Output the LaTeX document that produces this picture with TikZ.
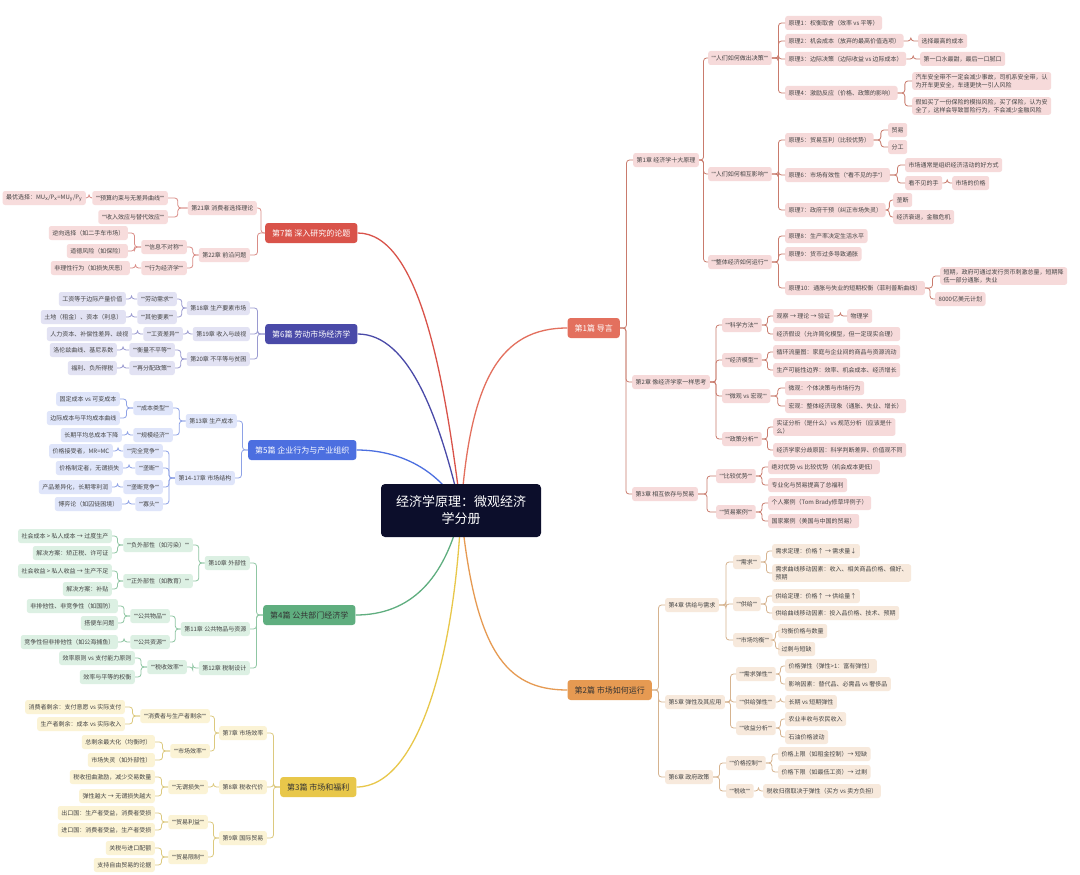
\documentclass[tikz,border=0pt]{standalone}
\usepackage{fontspec}
\setmainfont{Noto Sans CJK SC}
\newfontfamily\qf{Liberation Sans}
\newcommand\qq[1]{{\qf""}#1{\qf""}}
\usetikzlibrary{calc,backgrounds}
\definecolor{rootc}{HTML}{0C0E2B}
\definecolor{leaftxt}{HTML}{454545}
\definecolor{mA}{HTML}{E3705E}\definecolor{fA}{HTML}{F6DADA}\definecolor{lnA}{HTML}{C97B6D}
\definecolor{mB}{HTML}{E69A52}\definecolor{fB}{HTML}{F7E9DC}\definecolor{lnB}{HTML}{D6B38F}
\definecolor{mC}{HTML}{E8C74A}\definecolor{fC}{HTML}{FBF3D5}\definecolor{lnC}{HTML}{DCC97E}
\definecolor{mD}{HTML}{5FAE7F}\definecolor{fD}{HTML}{DCF0E3}\definecolor{lnD}{HTML}{8FC6A3}
\definecolor{mE}{HTML}{4C6FE0}\definecolor{fE}{HTML}{DFE5FA}\definecolor{lnE}{HTML}{8EA2E6}
\definecolor{mF}{HTML}{4A4AA8}\definecolor{fF}{HTML}{E2E2F3}\definecolor{lnF}{HTML}{9A9AD0}
\definecolor{mG}{HTML}{D9534A}\definecolor{fG}{HTML}{F7DCDC}\definecolor{lnG}{HTML}{D98C86}
\newcommand\rc[3]{\draw[#1] (#2.east) -- ($(#2.east)!.5!(#2.east -| #3.west)$) |- (#3.west);}
\newcommand\lc[3]{\draw[#1] (#2.west) -- ($(#2.west)!.5!(#2.west -| #3.east)$) |- (#3.east);}
\tikzset{
 base/.style={rounded corners=2.5pt, inner xsep=3.5pt, inner ysep=2pt, minimum height=14pt,
   font=\fontsize{6}{8}\selectfont, text=leaftxt, align=left},
 lA/.style={base, fill=fA}, lB/.style={base, fill=fB}, lC/.style={base, fill=fC},
 lD/.style={base, fill=fD}, lE/.style={base, fill=fE}, lF/.style={base, fill=fF}, lG/.style={base, fill=fG},
 part/.style={rounded corners=3pt, inner xsep=7pt, minimum height=20pt, font=\fontsize{8}{10}\selectfont},
 R/.style={anchor=west}, L/.style={anchor=east},
 cA/.style={draw=lnA, line width=0.8pt, rounded corners=3pt},
 cB/.style={draw=lnB, line width=0.8pt, rounded corners=3pt},
 cC/.style={draw=lnC, line width=0.8pt, rounded corners=3pt},
 cD/.style={draw=lnD, line width=0.8pt, rounded corners=3pt},
 cE/.style={draw=lnE, line width=0.8pt, rounded corners=3pt},
 cF/.style={draw=lnF, line width=0.8pt, rounded corners=3pt},
 cG/.style={draw=lnG, line width=0.8pt, rounded corners=3pt},
 mainline/.style={line width=1.3pt},
 rootbox/.style={fill=rootc, text=white, rounded corners=4pt, minimum width=160pt, minimum height=53pt,
   font=\fontsize{13}{17}\selectfont, align=center}
}
\begin{document}
\begin{tikzpicture}[x=1pt,y=-1pt]
\useasboundingbox (0,0) rectangle (1080,875);
\node[rootbox] (root) at (461,510.5) {经济学原理：微观经济\\学分册};

% ===== Part 1 =====
\node[part, fill=mA, text=white, anchor=east] (p1) at (620,328) {第1篇 导言};
\node[lA,R] (c1) at (633,160) {第1章 经济学十大原理};
\node[lA,R] (c1a) at (708,58) {\qq{人们如何做出决策}};
\node[lA,R] (c1a1) at (785,23) {原理1：权衡取舍（效率 vs 平等）};
\node[lA,R] (c1a2) at (785,41) {原理2：机会成本（放弃的最高价值选项）};
\node[lA,R] (c1a2x) at (918,41) {选择最高的成本};
\node[lA,R] (c1a3) at (785,59) {原理3：边际决策（边际收益 vs 边际成本）};
\node[lA,R] (c1a3x) at (920,59) {第一口水最甜，最后一口腻口};
\node[lA,R] (c1a4) at (785,93) {原理4：激励反应（价格、政策的影响）};
\node[lA,R] (c1a4x) at (912,81) {汽车安全带不一定会减少事故，司机系安全带，认\\为开车更安全，车速更快一引人风险};
\node[lA,R] (c1a4y) at (912,106) {假如买了一份保险的模拟风险，买了保险，认为安\\全了，这样会导致冒险行为，不会减少金融风险};
\node[lA,R] (c1b) at (708,174) {\qq{人们如何相互影响}};
\node[lA,R] (c1b1) at (785,140) {原理5：贸易互利（比较优势）};
\node[lA,R] (c1b1x) at (888,130) {贸易};
\node[lA,R] (c1b1y) at (888,147) {分工};
\node[lA,R] (c1b2) at (785,175) {原理6：市场有效性（{\qf"}看不见的手{\qf"}）};
\node[lA,R] (c1b2x) at (905,165) {市场通常是组织经济活动的好方式};
\node[lA,R] (c1b2y) at (905,183) {看不见的手};
\node[lA,R] (c1b2z) at (952,183) {市场的价格};
\node[lA,R] (c1b3) at (785,210) {原理7：政府干预（纠正市场失灵）};
\node[lA,R] (c1b3x) at (893,200) {垄断};
\node[lA,R] (c1b3y) at (893,217) {经济衰退，金融危机};
\node[lA,R] (c1c) at (708,262) {\qq{整体经济如何运行}};
\node[lA,R] (c1c1) at (785,236) {原理8：生产率决定生活水平};
\node[lA,R] (c1c2) at (785,254) {原理9：货币过多导致通胀};
\node[lA,R] (c1c3) at (785,288) {原理10：通胀与失业的短期权衡（菲利普斯曲线）};
\node[lA,R] (c1c3x) at (940,276) {短期，政府可通过发行货币刺激总量，短期降\\低一部分通胀，失业};
\node[lA,R] (c1c3y) at (935,299) {8000亿美元计划};

\node[lA,R] (c2) at (632,382) {第2章 像经济学家一样思考};
\node[lA,R] (c2a) at (722,325) {\qq{科学方法}};
\node[lA,R] (c2a1) at (773,316) {观察 → 理论 → 验证};
\node[lA,R] (c2a1x) at (847,316) {物理学};
\node[lA,R] (c2a2) at (773,334) {经济假设（允许简化模型，但一定现实合理）};
\node[lA,R] (c2b) at (722,360) {\qq{经济模型}};
\node[lA,R] (c2b1) at (773,352) {循环流量图：家庭与企业间的商品与资源流动};
\node[lA,R] (c2b2) at (773,370) {生产可能性边界：效率、机会成本、经济增长};
\node[lA,R] (c2c) at (722,396) {\qq{微观 vs 宏观}};
\node[lA,R] (c2c1) at (785,388) {微观：个体决策与市场行为};
\node[lA,R] (c2c2) at (785,406) {宏观：整体经济现象（通胀、失业、增长）};
\node[lA,R] (c2d) at (722,439) {\qq{政策分析}};
\node[lA,R] (c2d1) at (773,427) {实证分析（是什么）vs 规范分析（应该是什\\么）};
\node[lA,R] (c2d2) at (773,450) {经济学家分歧原因：科学判断差异、价值观不同};

\node[lA,R] (c3) at (632,494) {第3章 相互依存与贸易};
\node[lA,R] (c3a) at (716,476) {\qq{比较优势}};
\node[lA,R] (c3a1) at (768,467) {绝对优势 vs 比较优势（机会成本更低）};
\node[lA,R] (c3a2) at (768,485) {专业化与贸易提高了总福利};
\node[lA,R] (c3b) at (716,512) {\qq{贸易案例}};
\node[lA,R] (c3b1) at (768,503) {个人案例（Tom Brady修草坪例子）};
\node[lA,R] (c3b2) at (768,521) {国家案例（美国与中国的贸易）};

\rc{cA}{p1}{c1}\rc{cA}{p1}{c2}\rc{cA}{p1}{c3}
\rc{cA}{c1}{c1a}\rc{cA}{c1}{c1b}\rc{cA}{c1}{c1c}
\rc{cA}{c1a}{c1a1}\rc{cA}{c1a}{c1a2}\rc{cA}{c1a}{c1a3}\rc{cA}{c1a}{c1a4}
\rc{cA}{c1a2}{c1a2x}\rc{cA}{c1a3}{c1a3x}\rc{cA}{c1a4}{c1a4x}\rc{cA}{c1a4}{c1a4y}
\rc{cA}{c1b}{c1b1}\rc{cA}{c1b}{c1b2}\rc{cA}{c1b}{c1b3}
\rc{cA}{c1b1}{c1b1x}\rc{cA}{c1b1}{c1b1y}
\rc{cA}{c1b2}{c1b2x}\rc{cA}{c1b2}{c1b2y}\rc{cA}{c1b2y}{c1b2z}
\rc{cA}{c1b3}{c1b3x}\rc{cA}{c1b3}{c1b3y}
\rc{cA}{c1c}{c1c1}\rc{cA}{c1c}{c1c2}\rc{cA}{c1c}{c1c3}
\rc{cA}{c1c3}{c1c3x}\rc{cA}{c1c3}{c1c3y}
\rc{cA}{c2}{c2a}\rc{cA}{c2}{c2b}\rc{cA}{c2}{c2c}\rc{cA}{c2}{c2d}
\rc{cA}{c2a}{c2a1}\rc{cA}{c2a1}{c2a1x}\rc{cA}{c2a}{c2a2}
\rc{cA}{c2b}{c2b1}\rc{cA}{c2b}{c2b2}
\rc{cA}{c2c}{c2c1}\rc{cA}{c2c}{c2c2}
\rc{cA}{c2d}{c2d1}\rc{cA}{c2d}{c2d2}
\rc{cA}{c3}{c3a}\rc{cA}{c3}{c3b}
\rc{cA}{c3a}{c3a1}\rc{cA}{c3a}{c3a2}\rc{cA}{c3b}{c3b1}\rc{cA}{c3b}{c3b2}

% ===== Part 2 =====
\node[part, fill=mB, text=black!80, anchor=east] (p2) at (652,690) {第2篇 市场如何运行};
\node[lB,R] (c4) at (665,605) {第4章 供给与需求};
\node[lB,R] (c4a) at (733,562) {\qq{需求}};
\node[lB,R] (c4a1) at (772,551) {需求定理：价格↑ → 需求量↓};
\node[lB,R] (c4a2) at (772,573) {需求曲线移动因素：收入、相关商品价格、偏好、\\预期};
\node[lB,R] (c4b) at (733,604) {\qq{供给}};
\node[lB,R] (c4b1) at (772,596) {供给定理：价格↑ → 供给量↑};
\node[lB,R] (c4b2) at (772,613) {供给曲线移动因素：投入品价格、技术、预期};
\node[lB,R] (c4c) at (733,640) {\qq{市场均衡}};
\node[lB,R] (c4c1) at (778,631) {均衡价格与数量};
\node[lB,R] (c4c2) at (778,649) {过剩与短缺};
\node[lB,R] (c5) at (665,702) {第5章 弹性及其应用};
\node[lB,R] (c5a) at (736,674) {\qq{需求弹性}};
\node[lB,R] (c5a1) at (785,666) {价格弹性（弹性>1：富有弹性）};
\node[lB,R] (c5a2) at (785,684) {影响因素：替代品、必需品 vs 奢侈品};
\node[lB,R] (c5b) at (736,702) {\qq{供给弹性}};
\node[lB,R] (c5b1) at (785,702) {长期 vs 短期弹性};
\node[lB,R] (c5c) at (736,728) {\qq{收益分析}};
\node[lB,R] (c5c1) at (785,719) {农业丰收与农民收入};
\node[lB,R] (c5c2) at (785,737) {石油价格波动};
\node[lB,R] (c6) at (665,777) {第6章 政府政策};
\node[lB,R] (c6a) at (726,763) {\qq{价格控制}};
\node[lB,R] (c6a1) at (778,754) {价格上限（如租金控制）→ 短缺};
\node[lB,R] (c6a2) at (778,772) {价格下限（如最低工资）→ 过剩};
\node[lB,R] (c6b) at (726,791) {\qq{税收}};
\node[lB,R] (c6b1) at (763,791) {税收归宿取决于弹性（买方 vs 卖方负担）};
\rc{cB}{p2}{c4}\rc{cB}{p2}{c5}\rc{cB}{p2}{c6}
\rc{cB}{c4}{c4a}\rc{cB}{c4}{c4b}\rc{cB}{c4}{c4c}
\rc{cB}{c4a}{c4a1}\rc{cB}{c4a}{c4a2}\rc{cB}{c4b}{c4b1}\rc{cB}{c4b}{c4b2}
\rc{cB}{c4c}{c4c1}\rc{cB}{c4c}{c4c2}
\rc{cB}{c5}{c5a}\rc{cB}{c5}{c5b}\rc{cB}{c5}{c5c}
\rc{cB}{c5a}{c5a1}\rc{cB}{c5a}{c5a2}\rc{cB}{c5b}{c5b1}
\rc{cB}{c5c}{c5c1}\rc{cB}{c5c}{c5c2}
\rc{cB}{c6}{c6a}\rc{cB}{c6}{c6b}
\rc{cB}{c6a}{c6a1}\rc{cB}{c6a}{c6a2}\rc{cB}{c6b}{c6b1}

% ===== Part 7 =====
\node[part, fill=mG, text=white, anchor=west] (p7) at (265,233) {第7篇 深入研究的论题};
\node[lG,L] (c21) at (257,208) {第21章 消费者选择理论};
\node[lG,L] (c21a) at (168,198) {\qq{预算约束与无差异曲线}};
\node[lG,L] (c21a1) at (86,198) {最优选择：MU\textsubscript{x}/P\textsubscript{x}=MU\textsubscript{y}/P\textsubscript{y}};
\node[lG,L] (c21b) at (168,217) {\qq{收入效应与替代效应}};
\node[lG,L] (c22) at (250,255) {第22章 前沿问题};
\node[lG,L] (c22a) at (187,247) {\qq{信息不对称}};
\node[lG,L] (c22a1) at (128,233) {逆向选择（如二手车市场）};
\node[lG,L] (c22a2) at (128,251) {道德风险（如保险）};
\node[lG,L] (c22b) at (187,268) {\qq{行为经济学}};
\node[lG,L] (c22b1) at (130,268) {非理性行为（如损失厌恶）};
\lc{cG}{p7}{c21}\lc{cG}{p7}{c22}
\lc{cG}{c21}{c21a}\lc{cG}{c21}{c21b}\lc{cG}{c21a}{c21a1}
\lc{cG}{c22}{c22a}\lc{cG}{c22}{c22b}
\lc{cG}{c22a}{c22a1}\lc{cG}{c22a}{c22a2}\lc{cG}{c22b}{c22b1}

% ===== Part 6 =====
\node[part, fill=mF, text=white, anchor=west] (p6) at (265,334) {第6篇 劳动市场经济学};
\node[lF,L] (c18) at (250,308) {第18章 生产要素市场};
\node[lF,L] (c18a) at (177,299) {\qq{劳动需求}};
\node[lF,L] (c18a1) at (126,299) {工资等于边际产量价值};
\node[lF,L] (c18b) at (177,317) {\qq{其他要素}};
\node[lF,L] (c18b1) at (126,317) {土地（租金）、资本（利息）};
\node[lF,L] (c19) at (250,334) {第19章 收入与歧视};
\node[lF,L] (c19a) at (183,334) {\qq{工资差异}};
\node[lF,L] (c19a1) at (132,334) {人力资本、补偿性差异、歧视};
\node[lF,L] (c20) at (250,359) {第20章 不平等与贫困};
\node[lF,L] (c20a) at (175,350) {\qq{衡量不平等}};
\node[lF,L] (c20a1) at (117,350) {洛伦兹曲线、基尼系数};
\node[lF,L] (c20b) at (175,368) {\qq{再分配政策}};
\node[lF,L] (c20b1) at (117,368) {福利、负所得税};
\lc{cF}{p6}{c18}\lc{cF}{p6}{c19}\lc{cF}{p6}{c20}
\lc{cF}{c18}{c18a}\lc{cF}{c18}{c18b}\lc{cF}{c18a}{c18a1}\lc{cF}{c18b}{c18b1}
\lc{cF}{c19}{c19a}\lc{cF}{c19a}{c19a1}
\lc{cF}{c20}{c20a}\lc{cF}{c20}{c20b}\lc{cF}{c20a}{c20a1}\lc{cF}{c20b}{c20b1}

% ===== Part 5 =====
\node[part, fill=mE, text=white, anchor=west] (p5) at (248,450) {第5篇 企业行为与产业组织};
\node[lE,L] (c13) at (237,421) {第13章 生产成本};
\node[lE,L] (c13a) at (173,408) {\qq{成本类型}};
\node[lE,L] (c13a1) at (120,399) {固定成本 vs 可变成本};
\node[lE,L] (c13a2) at (120,418) {边际成本与平均成本曲线};
\node[lE,L] (c13b) at (173,435) {\qq{规模经济}};
\node[lE,L] (c13b1) at (122,435) {长期平均总成本下降};
\node[lE,L] (c14) at (235,478) {第14-17章 市场结构};
\node[lE,L] (c14a) at (163,451) {\qq{完全竞争}};
\node[lE,L] (c14a1) at (113,451) {价格接受者，MR=MC};
\node[lE,L] (c14b) at (163,468) {\qq{垄断}};
\node[lE,L] (c14b1) at (123,468) {价格制定者，无谓损失};
\node[lE,L] (c14c) at (163,487) {\qq{垄断竞争}};
\node[lE,L] (c14c1) at (112,487) {产品差异化，长期零利润};
\node[lE,L] (c14d) at (163,504) {\qq{寡头}};
\node[lE,L] (c14d1) at (122,504) {博弈论（如囚徒困境）};
\lc{cE}{p5}{c13}\lc{cE}{p5}{c14}
\lc{cE}{c13}{c13a}\lc{cE}{c13}{c13b}
\lc{cE}{c13a}{c13a1}\lc{cE}{c13a}{c13a2}\lc{cE}{c13b}{c13b1}
\lc{cE}{c14}{c14a}\lc{cE}{c14}{c14b}\lc{cE}{c14}{c14c}\lc{cE}{c14}{c14d}
\lc{cE}{c14a}{c14a1}\lc{cE}{c14b}{c14b1}\lc{cE}{c14c}{c14c1}\lc{cE}{c14d}{c14d1}

% ===== Part 4 =====
\node[part, fill=mD, text=black!80, anchor=west] (p4) at (263,615) {第4篇 公共部门经济学};
\node[lD,L] (c10) at (250,563) {第10章 外部性};
\node[lD,L] (c10a) at (193,545) {\qq{负外部性（如污染）}};
\node[lD,L] (c10a1) at (112,536) {社会成本 > 私人成本 → 过度生产};
\node[lD,L] (c10a2) at (112,553) {解决方案：矫正税、许可证};
\node[lD,L] (c10b) at (193,581) {\qq{正外部性（如教育）}};
\node[lD,L] (c10b1) at (112,571) {社会收益 > 私人收益 → 生产不足};
\node[lD,L] (c10b2) at (112,589) {解决方案：补贴};
\node[lD,L] (c11) at (250,629) {第11章 公共物品与资源};
\node[lD,L] (c11a) at (170,616) {\qq{公共物品}};
\node[lD,L] (c11a1) at (118,606) {非排他性、非竞争性（如国防）};
\node[lD,L] (c11a2) at (118,623) {搭便车问题};
\node[lD,L] (c11b) at (170,642) {\qq{公共资源}};
\node[lD,L] (c11b1) at (118,642) {竞争性但非排他性（如公海捕鱼）};
\node[lD,L] (c12) at (250,668) {第12章 税制设计};
\node[lD,L] (c12a) at (187,667) {\qq{税收效率}};
\node[lD,L] (c12a1) at (135,658) {效率原则 vs 支付能力原则};
\node[lD,L] (c12a2) at (135,677) {效率与平等的权衡};
\lc{cD}{p4}{c10}\lc{cD}{p4}{c11}\lc{cD}{p4}{c12}
\lc{cD}{c10}{c10a}\lc{cD}{c10}{c10b}
\lc{cD}{c10a}{c10a1}\lc{cD}{c10a}{c10a2}\lc{cD}{c10b}{c10b1}\lc{cD}{c10b}{c10b2}
\lc{cD}{c11}{c11a}\lc{cD}{c11}{c11b}
\lc{cD}{c11a}{c11a1}\lc{cD}{c11a}{c11a2}\lc{cD}{c11b}{c11b1}
\lc{cD}{c12}{c12a}\lc{cD}{c12a}{c12a1}\lc{cD}{c12a}{c12a2}

% ===== Part 3 =====
\node[part, fill=mC, text=black!80, anchor=west] (p3) at (280,787) {第3篇 市场和福利};
\node[lC,L] (c7) at (267,733) {第7章 市场效率};
\node[lC,L] (c7a) at (210,716) {\qq{消费者与生产者剩余}};
\node[lC,L] (c7a1) at (125,707) {消费者剩余：支付意愿 vs 实际支付};
\node[lC,L] (c7a2) at (125,724) {生产者剩余：成本 vs 实际收入};
\node[lC,L] (c7b) at (210,751) {\qq{市场效率}};
\node[lC,L] (c7b1) at (155,742) {总剩余最大化（均衡时）};
\node[lC,L] (c7b2) at (155,760) {市场失灵（如外部性）};
\node[lC,L] (c8) at (267,787) {第8章 税收代价};
\node[lC,L] (c8a) at (208,787) {\qq{无谓损失}};
\node[lC,L] (c8a1) at (155,777) {税收扭曲激励，减少交易数量};
\node[lC,L] (c8a2) at (155,796) {弹性越大 → 无谓损失越大};
\node[lC,L] (c9) at (267,838) {第9章 国际贸易};
\node[lC,L] (c9a) at (208,822) {\qq{贸易利益}};
\node[lC,L] (c9a1) at (155,813) {出口国：生产者受益，消费者受损};
\node[lC,L] (c9a2) at (155,830) {进口国：消费者受益，生产者受损};
\node[lC,L] (c9b) at (208,857) {\qq{贸易限制}};
\node[lC,L] (c9b1) at (155,848) {关税与进口配额};
\node[lC,L] (c9b2) at (155,865) {支持自由贸易的论据};
\lc{cC}{p3}{c7}\lc{cC}{p3}{c8}\lc{cC}{p3}{c9}
\lc{cC}{c7}{c7a}\lc{cC}{c7}{c7b}
\lc{cC}{c7a}{c7a1}\lc{cC}{c7a}{c7a2}\lc{cC}{c7b}{c7b1}\lc{cC}{c7b}{c7b2}
\lc{cC}{c8}{c8a}\lc{cC}{c8a}{c8a1}\lc{cC}{c8a}{c8a2}
\lc{cC}{c9}{c9a}\lc{cC}{c9}{c9b}
\lc{cC}{c9a}{c9a1}\lc{cC}{c9a}{c9a2}\lc{cC}{c9b}{c9b1}\lc{cC}{c9b}{c9b2}

% ===== main curves =====
\begin{scope}[on background layer]
\fill[white] (0,0) rectangle (1080,875);
\draw[mainline, draw=mA] (root.center) .. controls (470,380) and (500,328) .. (p1.west);
\draw[mainline, draw=mB] (root.center) .. controls (475,650) and (505,690) .. (p2.west);
\draw[mainline, draw=mG] (p7.east) .. controls (420,233) and (445,380) .. (root.center);
\draw[mainline, draw=mF] (p6.east) .. controls (410,334) and (440,420) .. (root.center);
\draw[mainline, draw=mE] (p5.east) .. controls (400,450) and (440,470) .. (root.center);
\draw[mainline, draw=mD] (p4.east) .. controls (410,615) and (445,580) .. (root.center);
\draw[mainline, draw=mC] (p3.east) .. controls (420,787) and (455,650) .. (root.center);
\end{scope}
\end{tikzpicture}
\end{document}
